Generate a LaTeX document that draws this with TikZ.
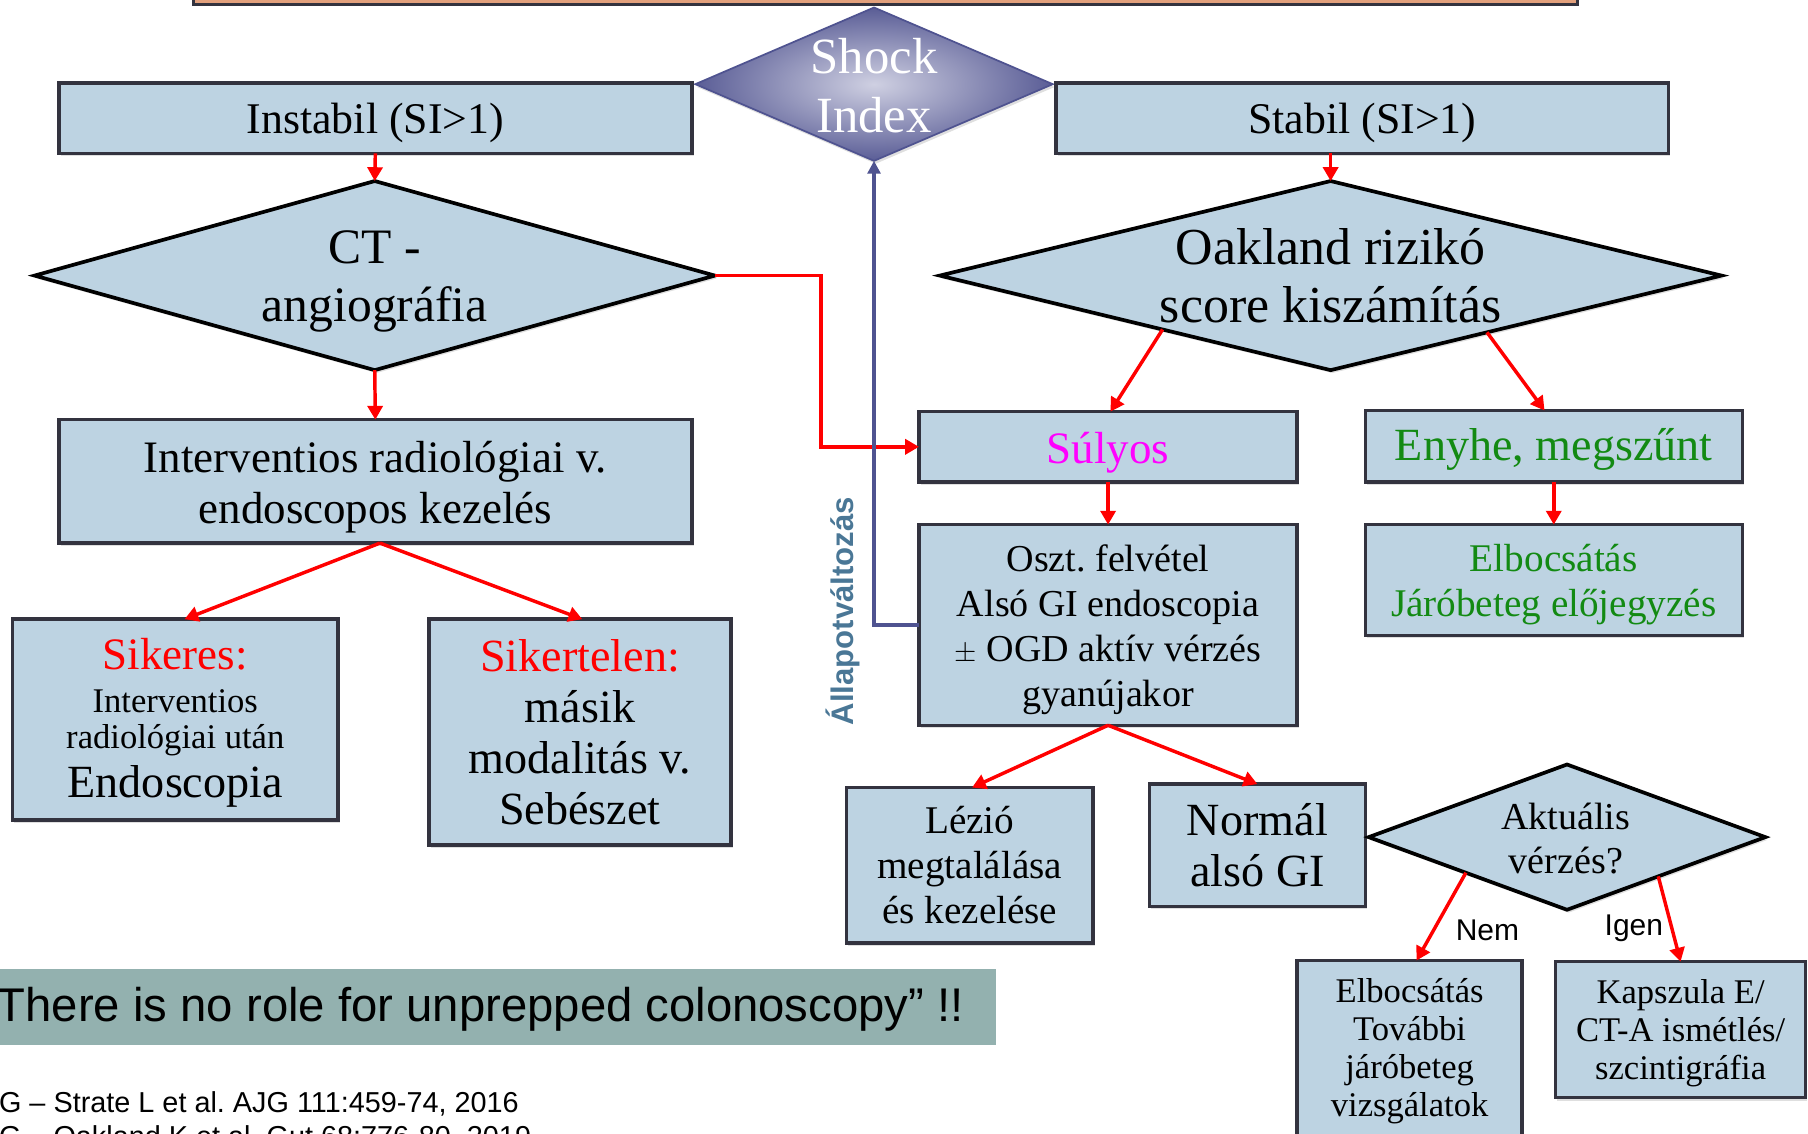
\documentclass[tikz,border=0pt]{standalone}
\usepackage{fontspec}
\setmainfont{Liberation Serif}
\setsansfont{Liberation Sans}
\usetikzlibrary{shapes.geometric,arrows.meta,shadows,calc}
\frenchspacing
\definecolor{boxfill}{HTML}{BDD3E2}
\definecolor{boxline}{HTML}{33333F}
\definecolor{barfill}{HTML}{E2A07C}
\definecolor{shockline}{HTML}{4F5390}
\definecolor{shockout}{HTML}{5A5D96}
\definecolor{shockin}{HTML}{CFD0E2}
\definecolor{okgreen}{HTML}{138A13}
\definecolor{purplish}{HTML}{FF00FF}
\definecolor{bannerfill}{HTML}{93B1AF}
\definecolor{stateblue}{HTML}{4A7796}
\newcommand\fsz[2]{\fontsize{#1}{#2}\selectfont}
\begin{document}
\begin{tikzpicture}[x=1pt,y=-1pt,
  shd/.style={drop shadow={shadow xshift=1.5pt,shadow yshift=-2.5pt,opacity=0.25}},
  box/.style={rectangle,draw=boxline,line width=3pt,fill=boxfill,inner sep=0pt,outer sep=0pt,shd},
  dia/.style={diamond,draw=black,line width=3.2pt,fill=boxfill,inner sep=0pt,outer sep=0pt,shd},
  lbl/.style={align=center,inner sep=0pt},
  arr/.style={red,line width=3pt,-{Triangle[length=12pt,width=13pt]}}]
\useasboundingbox (0,0) rectangle (1568,983);
\clip (0,0) rectangle (1568,983);

% top bar
\node[rectangle,draw=boxline,fill=barfill,line width=3pt,minimum width=1200pt,minimum height=40pt,inner sep=0pt] (topbar) at (768,-16) {};

% shock index
\node[diamond,draw=shockline,line width=1.5pt,shading=radial,inner color=shockin,outer color=shockout,
      minimum width=310pt,minimum height=133pt,inner sep=0pt,outer sep=0pt,shd] (shock) at (758,73) {};
\node[lbl,text=white,font=\fsz{44}{51}] (shockt) at (758,74) {Shock\\Index};

% first level
\node[box,minimum width=549pt,minimum height=61pt] (inst) at (325.5,102.5) {};
\node[lbl,font=\fsz{38}{44}] (instt) at ($(inst)+(0,4)$) {Instabil (SI>1)};
\node[box,minimum width=531pt,minimum height=61pt] (stab) at (1181.5,102.5) {};
\node[lbl,font=\fsz{38}{44}] (stabt) at ($(stab)+(0,4)$) {Stabil (SI>1)};

% diamonds
\node[dia,minimum width=590pt,minimum height=164pt] (ct) at (325,239) {};
\node[lbl,font=\fsz{43}{51}] (ctt) at (325,244) {CT -\\angiográfia};
\node[dia,minimum width=678pt,minimum height=164pt] (oak) at (1154,239) {};
\node[lbl,font=\fsz{45}{50}] (oakt) at (1154,239) {Oakland rizikó\\score kiszámítás};

% left branch
\node[box,minimum width=549pt,minimum height=107pt] (interv) at (325.5,417.5) {};
\node[lbl,font=\fsz{39}{44}] (intervt) at ($(interv)+(0,5)$) {Interventios radiológiai v.\\endoscopos kezelés};
\node[box,minimum width=282pt,minimum height=174pt] (sik) at (152,624) {};
\node[lbl,anchor=base,font=\fsz{39}{44},text=red] (sik1) at (152,581) {Sikeres:};
\node[lbl,anchor=base,font=\fsz{30}{34}] (sik2) at (152,617.5) {Interventios};
\node[lbl,anchor=base,font=\fsz{30}{34}] (sik3) at (152,649) {radiológiai után};
\node[lbl,anchor=base,font=\fsz{40}{44}] (sik4) at (152,692) {Endoscopia};
\node[box,minimum width=262pt,minimum height=196pt] (sikn) at (503,635) {};
\node[lbl,font=\fsz{40}{44}] (siknt) at (503,635) {{\color{red}Sikertelen:}\\másik\\modalitás v.\\Sebészet};

% right branch
\node[box,minimum width=328pt,minimum height=61pt] (suly) at (961,387.5) {};
\node[lbl,font=\fsz{39}{44},text=purplish] (sulyt) at ($(suly)+(0,5)$) {Súlyos};
\node[box,minimum width=327pt,minimum height=62pt] (enyhe) at (1347.5,387) {};
\node[lbl,font=\fsz{40}{44},text=okgreen] (enyhet) at ($(enyhe)+(0,3)$) {Enyhe, megszűnt};
\node[box,minimum width=328pt,minimum height=174pt] (oszt) at (961,542) {};
\node[lbl,font=\fsz{33}{39}] (osztt) at ($(oszt)+(0,4)$) {Oszt. felvétel\\Alsó GI endoscopia\\$\pm$ OGD aktív vérzés\\gyanújakor};
\node[box,minimum width=327pt,minimum height=96pt] (elb1) at (1347.5,503) {};
\node[lbl,font=\fsz{34}{39},text=okgreen] (elb1t) at ($(elb1)+(0,4)$) {Elbocsátás\\Járóbeteg előjegyzés};
\node[box,minimum width=214pt,minimum height=135pt] (lezio) at (841,750.5) {};
\node[lbl,font=\fsz{34}{39}] (leziot) at (lezio) {Lézió\\megtalálása\\és kezelése};
\node[box,minimum width=187pt,minimum height=106pt] (norm) at (1090.5,733) {};
\node[lbl,font=\fsz{40}{44}] (normt) at (norm) {Normál\\alsó GI};
\node[dia,minimum width=344pt,minimum height=126pt] (akt) at (1359,726) {};
\node[lbl,font=\fsz{33}{38}] (aktt) at (1358,727) {Aktuális\\vérzés?};
\node[box,minimum width=195pt,minimum height=154pt] (elb2) at (1222.5,910) {};
\node[lbl,font=\fsz{30}{33}] (elb2t) at ($(elb2)+(0,2)$) {Elbocsátás\\További\\járóbeteg\\vizsgálatok};
\node[box,minimum width=217pt,minimum height=118pt] (kap) at (1457.5,893) {};
\node[lbl,font=\fsz{30}{33}] (kapt) at ($(kap)+(0,3)$) {Kapszula E/\\CT-A ismétlés/\\szcintigráfia};

\node[lbl,font=\sffamily\fsz{26}{28}] (nem) at (1290,807) {Nem};
\node[lbl,font=\sffamily\fsz{26}{28}] (igen) at (1417,805) {Igen};

% state change
\node[lbl,rotate=90,font=\sffamily\bfseries\fsz{27}{30},text=stateblue] (allapot) at (731,530) {Állapotváltozás};

% banner and references
\node[rectangle,fill=bannerfill,minimum width=869pt,minimum height=66pt,inner sep=0pt] (banner) at (429.5,873) {};
\node[anchor=base west,inner sep=0pt,font=\sffamily\fsz{41}{44}] (bannert) at (-3,886) {There is no role for unprepped colonoscopy” !!};
\node[anchor=base west,inner sep=0pt,font=\sffamily\fsz{25}{27}] (ref1) at (-1,964.5) {G – Strate L et al. AJG 111:459-74, 2016};
\node[anchor=base west,inner sep=0pt,font=\sffamily\fsz{25}{27}] (ref2) at (-1,994.5) {G – Oakland K et al. Gut 68:776-80, 2019};

% connectors
\draw[arr] (inst.south) -- (ct.north);
\draw[arr] (oak.north |- stab.south) -- (oak.north);
\draw[arr] (ct.south) -- (interv.north);
\draw[arr] ($(interv.south)+(4,0)$) -- ($(sik.north)+(8,0)$);
\draw[arr] ($(interv.south)+(4,0)$) -- ($(sikn.north)+(2,0)$);
\draw[arr] (ct.east) -- ++(92,0) |- (suly.west);
\draw[arr] ($(oak.west)!0.57!(oak.south)$) -- ($(suly.north)+(2,0)$);
\draw[arr] ($(oak.south)!0.40!(oak.east)$) -- ($(enyhe.north)+(-8,0)$);
\draw[arr] (suly.south) -- (oszt.north);
\draw[arr] (enyhe.south) -- (elb1.north);
\draw[arr] (oszt.south) -- ($(lezio.north)+(2,0)$);
\draw[arr] (oszt.south) -- (norm.north);
\draw[arr] ($(akt.west)!0.49!(akt.south)$) -- ($(elb2.north)+(6,0)$);
\draw[arr] ($(akt.south)!0.46!(akt.east)$) -- (kap.north);
\draw[shockline,line width=2.8pt,-{Triangle[length=11pt,width=11pt]}] (oszt.west) -| (shock.south);
\end{tikzpicture}
\end{document}
